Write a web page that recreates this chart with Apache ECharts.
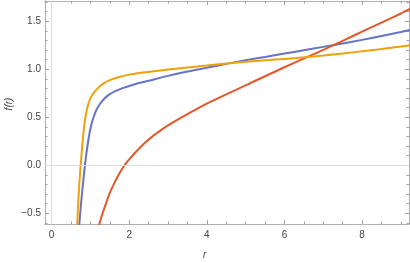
<!DOCTYPE html>
<html>
<head>
<meta charset="utf-8">
<script src="https://cdn.jsdelivr.net/npm/echarts@6/dist/echarts.min.js"></script>
<style>html,body{margin:0;padding:0;background:#fff}#c{width:410px;height:263px}</style>
</head>
<body>
<div id="c"></div>
<script>
// data: [r, f(r)]
var orangeData = [[0.66,-0.62],[0.68,-0.44],[0.70,-0.29],[0.72,-0.16],[0.75,0.0],[0.79,0.2],[0.83,0.37],[0.88,0.52],[0.94,0.63],[1.0,0.695],[1.08,0.75],[1.16,0.79],[1.25,0.825],[1.35,0.855],[1.5,0.885],[1.7,0.913],[2.0,0.943],[2.3,0.963],[2.7,0.982],[3.0,0.996],[3.5,1.017],[4.0,1.038],[4.6,1.062],[5.0,1.076],[5.5,1.092],[6.0,1.107],[6.5,1.123],[7.0,1.143],[7.5,1.164],[8.0,1.186],[8.5,1.21],[9.0,1.236],[9.25,1.25]];
var blueData = [[0.71,-0.65],[0.72,-0.59],[0.75,-0.44],[0.78,-0.31],[0.82,-0.15],[0.86,0.0],[0.9,0.13],[0.95,0.27],[1.0,0.38],[1.05,0.46],[1.1,0.52],[1.16,0.58],[1.25,0.64],[1.35,0.69],[1.5,0.74],[1.67,0.777],[1.85,0.805],[2.0,0.825],[2.25,0.855],[2.5,0.88],[3.0,0.93],[3.5,0.975],[4.0,1.015],[4.6,1.063],[5.0,1.093],[5.5,1.127],[6.0,1.162],[6.5,1.197],[7.0,1.232],[7.5,1.268],[8.0,1.305],[8.5,1.345],[9.0,1.388],[9.25,1.41]];
var redData = [[1.22,-0.63],[1.3,-0.52],[1.4,-0.40],[1.5,-0.29],[1.6,-0.2],[1.7,-0.12],[1.8,-0.05],[1.9,0.01],[2.0,0.06],[2.2,0.15],[2.4,0.23],[2.6,0.30],[2.8,0.36],[3.0,0.415],[3.25,0.475],[3.5,0.532],[3.75,0.587],[4.0,0.64],[4.5,0.737],[5.0,0.832],[5.5,0.926],[6.0,1.02],[6.5,1.11],[7.0,1.2],[7.5,1.295],[8.0,1.39],[8.5,1.485],[9.0,1.58],[9.25,1.63]];
var xMajorTicks = [0,2,4,6,8];
var xMinorTicks = [0.5,1,1.5,2.5,3,3.5,4.5,5,5.5,6.5,7,7.5,8.5,9];
var yMajorTicks = [-0.5,0,0.5,1,1.5];
var yMinorTicks = [-0.6,-0.4,-0.3,-0.2,-0.1,0.1,0.2,0.3,0.4,0.6,0.7,0.8,0.9,1.1,1.2,1.3,1.4,1.6,1.7];
var xTitle = 'r';
var yTitle = 'f(r)';

var XMIN = -0.17, XMAX = 9.21, YMIN = -0.613, YMAX = 1.71;
var frameColor = '#b0b0b0', tickColor = '#a0a0a0', labelColor = '#444';
var font = 'Liberation Sans, Arial, sans-serif';

function fmtY(v){ var s = Math.abs(v).toFixed(1); return v < 0 ? '\u2212' + s : s; }

function xAx(pos, ticks, len, labels){
  return {type:'value', min:XMIN, max:XMAX, position:pos,
    axisLine:{show:true, onZero:false, lineStyle:{color:frameColor, width:1}},
    axisTick:{show:true, inside:true, length:len, customValues:ticks, lineStyle:{color:tickColor, width:1}},
    axisLabel:labels ? {show:true, customValues:ticks, margin:6, color:labelColor, fontSize:10, fontFamily:font} : {show:false},
    splitLine:{show:false}};
}
function yAx(pos, ticks, len, labels){
  return {type:'value', min:YMIN, max:YMAX, position:pos,
    axisLine:{show:true, onZero:false, lineStyle:{color:frameColor, width:1}},
    axisTick:{show:true, inside:true, length:len, customValues:ticks, lineStyle:{color:tickColor, width:1}},
    axisLabel:labels ? {show:true, customValues:ticks, margin:4, color:labelColor, fontSize:10, fontFamily:font, formatter:fmtY} : {show:false},
    splitLine:{show:false}};
}

var chart = echarts.init(document.getElementById('c'), null, {renderer:'canvas'});
function line(d, color){
  return {type:'line', data:d, smooth:0.3, showSymbol:false, symbol:'none', z:3, clip:true,
    lineStyle:{color:color, width:2}, xAxisIndex:0, yAxisIndex:0};
}
chart.setOption({
  animation:false,
  grid:{left:45, right:1, top:1, bottom:39},
  xAxis:[xAx('bottom', xMajorTicks, 4, true), xAx('bottom', xMinorTicks, 2.5, false), xAx('top', xMajorTicks, 4, false), xAx('top', xMinorTicks, 2.5, false)],
  yAxis:[yAx('left', yMajorTicks, 4, true), yAx('left', yMinorTicks, 2.5, false), yAx('right', yMajorTicks, 4, false), yAx('right', yMinorTicks, 2.5, false)],
  graphic:[
    {type:'text', left:203, top:250, style:{text:xTitle, font:'italic 10px ' + font, fill:labelColor}},
    {type:'text', x:9, y:104, rotation:Math.PI/2, style:{text:yTitle, font:'italic 10px ' + font, fill:labelColor, align:'center', verticalAlign:'middle'}}
  ],
  series:[
    {type:'line', data:[], z:1, xAxisIndex:0, yAxisIndex:0,
      markLine:{silent:true, symbol:'none', label:{show:false}, lineStyle:{color:'#dcdcdc', width:1, type:'solid'},
        data:[{xAxis:0},{yAxis:0}]}},
    line(blueData, '#6674c8'),
    line(redData, '#e2582a'),
    line(orangeData, '#f0a10a')
  ]
});
</script>
</body>
</html>
